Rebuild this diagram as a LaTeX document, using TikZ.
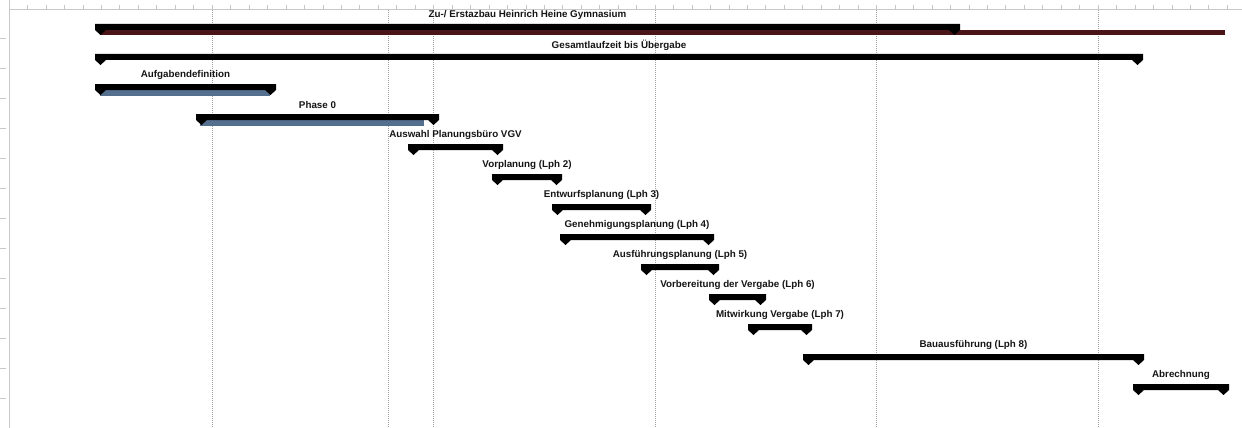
\documentclass[tikz,border=0pt]{standalone}
\usepackage{fontspec}
\setmainfont{Liberation Sans}
\definecolor{gridgray}{HTML}{A0A0A0}
\definecolor{rulergray}{HTML}{C8C8C8}
\definecolor{progred}{HTML}{4A1518}
\definecolor{progblue}{HTML}{55708F}
\definecolor{labeltext}{HTML}{151515}
\tikzset{
  gridline/.style={gridgray, line width=0.7pt, dash pattern=on 1pt off 1pt},
  ruler/.style={rulergray, line width=0.8pt},
  barlabel/.style={font=\fontsize{9.8}{11}\selectfont\bfseries, text=labeltext, inner sep=0pt, anchor=center},
  barfill/.style={fill=black},
}
% \ganttrow{name}{x1}{x2}{ytop}{label}
\newcommand\ganttrow[5]{%
  \fill[barfill] (#2,#4) -- (#3,#4) -- (#3,#4+6) -- (#3-5.5,#4+11) -- (#3-11,#4+6)
     -- (#2+11,#4+6) -- (#2+5.5,#4+11) -- (#2,#4+6) -- cycle;
  \node[barlabel] (#1) at ({(#2+#3)/2},#4-9) {#5};
}
\begin{document}
\begin{tikzpicture}[x=1pt,y=-1pt]
\useasboundingbox[fill=white] (0,0) rectangle (1242,428);
% ruler
\draw[ruler] (9,9) -- (1242,9);
\draw[ruler] (9,0) -- (9,428);
\foreach \k in {-10,...,55} {
  \pgfmathsetmacro\tx{212+\k*18.458}
  \draw[ruler, line width=0.5pt] (\tx,5) -- (\tx,9);
}
\foreach \yy in {38,68,...,398} {
  \draw[ruler] (0,\yy) -- (6,\yy);
}
% dotted grid lines
\foreach \gx in {212,388,433.5,655,876.5,1098} {
  \draw[gridline] (\gx,10) -- (\gx,428);
}
% progress bars
\fill[progred] (100,30) rectangle (1225,35.5);
\fill[progblue] (100,90) rectangle (270,95.5);
\fill[progblue] (200,120) rectangle (424,125.5);
% bars
\ganttrow{l1}{95}{960}{24}{Zu-/ Erstazbau Heinrich Heine Gymnasium}
\ganttrow{l2}{95}{1143}{54}{Gesamtlaufzeit bis Übergabe}
\ganttrow{l3}{95}{276}{84}{Aufgabendefinition}
\ganttrow{l4}{196}{439}{114}{Phase 0}
\ganttrow{l5}{408}{503}{144}{Auswahl Planungsbüro VGV}
\ganttrow{l6}{492}{562}{174}{Vorplanung (Lph 2)}
\ganttrow{l7}{552}{651}{204}{Entwurfsplanung (Lph 3)}
\ganttrow{l8}{560}{714}{234}{Genehmigungsplanung (Lph 4)}
\ganttrow{l9}{641}{719}{264}{Ausführungsplanung (Lph 5)}
\ganttrow{l10}{709}{766}{294}{Vorbereitung der Vergabe (Lph 6)}
\ganttrow{l11}{748}{812}{324}{Mitwirkung Vergabe (Lph 7)}
\ganttrow{l12}{803}{1144}{354}{Bauausführung (Lph 8)}
\ganttrow{l13}{1133}{1229}{384}{Abrechnung}
\end{tikzpicture}
\end{document}
